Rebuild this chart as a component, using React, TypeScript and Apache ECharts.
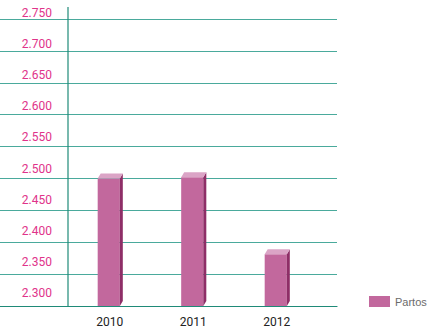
import React, { useEffect, useRef } from "react";
import * as echarts from "echarts";

const categories = ["2010", "2011", "2012"];
const values = [2505, 2507, 2383];
const seriesName = "Partos";
const yMin = 2300;
const yMax = 2750;
const yInterval = 50;

const fmt = (v: number) => (v / 1000).toFixed(3);

export default function App() {
  const ref = useRef<HTMLDivElement>(null);
  useEffect(() => {
    if (!ref.current) return;
    const chart = echarts.init(ref.current, undefined, { renderer: "svg" });
    const font = "Roboto, 'Liberation Sans', sans-serif";
    chart.setOption({
      animation: false,
      backgroundColor: "#ffffff",
      textStyle: { fontFamily: font },
      legend: {
        data: [{ name: seriesName, icon: "rect", itemStyle: { color: "#c2689d" } }],
        left: 369,
        top: 296,
        itemWidth: 21,
        itemHeight: 11,
        itemGap: 5,
        padding: 0,
        textStyle: { color: "#6b6b6b", fontSize: 11, fontFamily: "'Liberation Sans Narrow', 'Liberation Sans', sans-serif" },
      },
      grid: [
        { left: 0, right: 92, top: 19, bottom: 22 },
        { left: 68, width: 250.5, top: 19, bottom: 22 },
      ],
      xAxis: [
        {
          gridIndex: 0,
          type: "value",
          min: 0,
          max: 1,
          axisLine: { show: true, lineStyle: { color: "#1f8a78", width: 1.2 } },
          axisTick: { show: false },
          axisLabel: { show: false },
          splitLine: { show: false },
        },
        {
          gridIndex: 1,
          type: "category",
          data: categories,
          axisLine: { show: false },
          axisTick: { show: false },
          axisLabel: { color: "#222222", fontSize: 12, margin: 10, fontFamily: font },
          splitLine: { show: false },
        },
      ],
      yAxis: [
        {
          gridIndex: 0,
          type: "value",
          min: yMin,
          max: yMax,
          interval: yInterval,
          axisLine: { show: false },
          axisTick: { show: false },
          axisLabel: { show: false },
          splitLine: { show: true, lineStyle: { color: "#4aaa9c", width: 1 } },
        },
        {
          gridIndex: 1,
          type: "value",
          min: yMin,
          max: yMax,
          interval: yInterval,
          axisLine: { show: false },
          axisTick: { show: false },
          axisLabel: {
            color: "#e0338a",
            fontSize: 12,
            margin: 16,
            verticalAlign: "bottom",
            lineHeight: 26,
            formatter: (v: number) => fmt(v),
            fontFamily: font,
          },
          splitLine: { show: false },
        },
      ],
      graphic: [
        {
          type: "line",
          z: 10,
          shape: { x1: 68, y1: 7, x2: 68, y2: 306 },
          style: { stroke: "#1f8a78", lineWidth: 1.2 },
        },
      ],
      series: [
        {
          name: seriesName,
          type: "custom",
          xAxisIndex: 1,
          yAxisIndex: 1,
          itemStyle: { color: "#c2689d" },
          data: values.map((v, i) => [i, v]),
          renderItem: (params: any, api: any) => {
            const idx = api.value(0);
            const v = api.value(1);
            const top = api.coord([idx, v]);
            const base = api.coord([idx, yMin]);
            const bw = api.size([1, 0])[0] * 0.265;
            const x0 = top[0] - bw / 2 - 1;
            const x1 = x0 + bw;
            const dx = 3;
            const dy = 5;
            return {
              type: "group",
              children: [
                {
                  type: "polygon",
                  shape: { points: [[x0, top[1]], [x1, top[1]], [x1, base[1]], [x0, base[1]]] },
                  style: { fill: "#c2689d" },
                },
                {
                  type: "polygon",
                  shape: {
                    points: [[x1, top[1]], [x1 + dx, top[1] - dy], [x1 + dx, base[1] - dy], [x1, base[1]]],
                  },
                  style: { fill: "#8e2e67" },
                },
                {
                  type: "polygon",
                  shape: {
                    points: [[x0, top[1]], [x0 + dx, top[1] - dy], [x1 + dx, top[1] - dy], [x1, top[1]]],
                  },
                  style: { fill: "#dba4c6" },
                },
              ],
            };
          },
        },
      ],
    });
    return () => chart.dispose();
  }, []);
  return (
    <div
      ref={ref}
      style={{ position: "fixed", left: 0, top: 0, width: 429, height: 328 }}
    />
  );
}
